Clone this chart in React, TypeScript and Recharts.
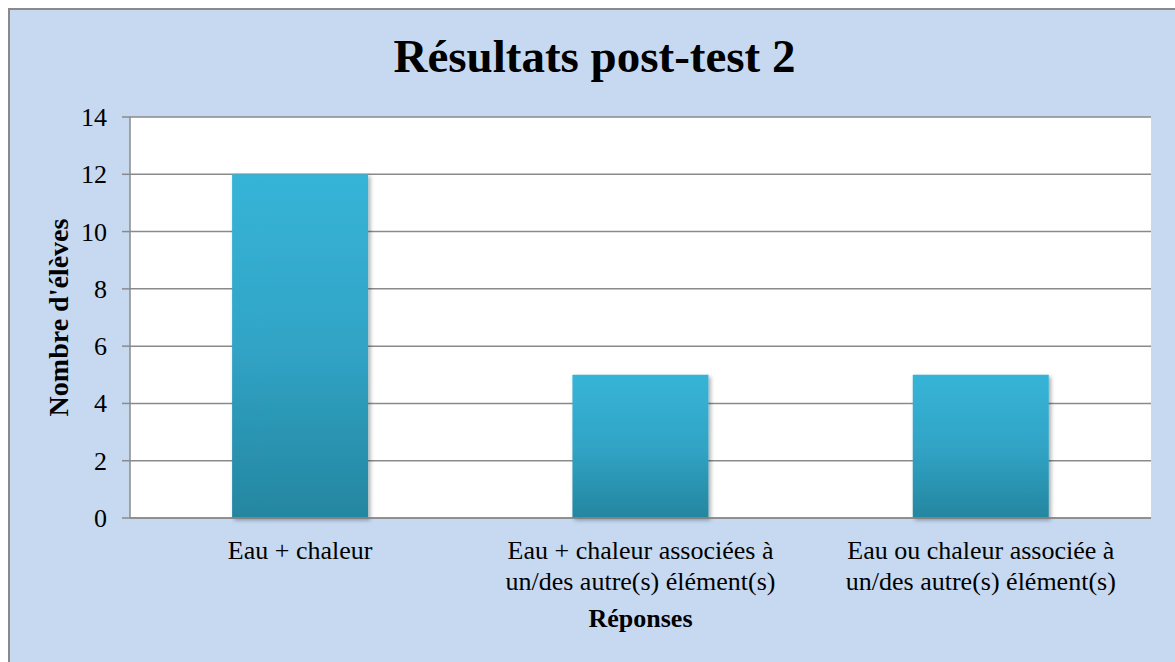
import React from 'react';
import { BarChart, Bar, XAxis, YAxis, CartesianGrid } from 'recharts';

const categories = [
  ['Eau + chaleur'],
  ['Eau + chaleur associées à', 'un/des autre(s) élément(s)'],
  ['Eau ou chaleur associée à', 'un/des autre(s) élément(s)'],
];
const values = [12, 5, 5];
const yTicks = [0, 2, 4, 6, 8, 10, 12, 14];
const title = 'Résultats post-test 2';
const yTitle = "Nombre d'élèves";
const xTitle = 'Réponses';

const data = categories.map((c, i) => ({ name: c.join(' '), lines: c, value: values[i] }));

const FONT = "'Liberation Serif', 'Times New Roman', serif";
const GRID = '#8a8a8a';

const XTick = (props: any) => {
  const { x, y, index } = props;
  const lines = categories[index] || [];
  return (
    <g>
      {lines.map((l, i) => (
        <text key={i} x={x} y={y + 41 + i * 31} textAnchor="middle" style={{ fontFamily: FONT }} fontSize={26} fill="#000">
          {l}
        </text>
      ))}
    </g>
  );
};

const YTick = (props: any) => {
  const { x, y, payload } = props;
  return (
    <text x={x} y={y} dy={9} textAnchor="end" style={{ fontFamily: FONT }} fontSize={26} fill="#000">
      {payload.value}
    </text>
  );
};

export default function App() {
  const W = 1173;
  const H = 662;
  return (
    <div style={{ position: 'fixed', left: 8, top: 8, width: 1167, height: 654, overflow: 'hidden' }}>
      <div style={{ width: W, height: H, background: '#c6d9f1', border: '2px solid #8a8a8a', position: 'relative' }}>
        <BarChart
          width={W}
          height={H}
          data={data}
          margin={{ top: 107, right: 32, left: 0, bottom: 0 }}
          barCategoryGap="30%"
          style={{ fontFamily: FONT }}
        >
          <defs>
            <linearGradient id="barGrad" x1="0" y1="0" x2="0" y2="1">
              <stop offset="0%" stopColor="#36b4d7" />
              <stop offset="50%" stopColor="#31a4c6" />
              <stop offset="100%" stopColor="#2486a0" />
            </linearGradient>
            <filter id="barShadow" x="-10%" y="-10%" width="130%" height="130%">
              <feDropShadow dx="2" dy="2" stdDeviation="2" floodColor="#000" floodOpacity="0.35" />
            </filter>
          </defs>
          <text x={584.5} y={62} textAnchor="middle" style={{ fontFamily: FONT }} fontSize={47} fontWeight="bold" fill="#000">
            {title}
          </text>
          <CartesianGrid vertical={false} stroke={GRID} strokeWidth={1.5} fill="#ffffff" />
          <XAxis
            dataKey="name"
            height={154}
            tickLine={false}
            tickSize={0}
            tickMargin={0}
            axisLine={{ stroke: GRID, strokeWidth: 1.5 }}
            tick={<XTick />}
            interval={0}
            label={{
              content: (p: any) => {
                const vb = p.viewBox || { x: 120, y: 508, width: 1021 };
                return (
                  <text x={vb.x + vb.width / 2} y={vb.y + 109} textAnchor="middle" style={{ fontFamily: FONT }} fontSize={26} fontWeight="bold" fill="#000">
                    {xTitle}
                  </text>
                );
              },
            }}
          />
          <YAxis
            width={120}
            domain={[0, 14]}
            ticks={yTicks}
            interval={0}
            tickSize={8}
            tickMargin={15}
            axisLine={{ stroke: GRID, strokeWidth: 1.5 }}
            tickLine={{ stroke: GRID, strokeWidth: 1.5 }}
            tick={<YTick />}
            label={{
              content: () => (
                <text x={58} y={307.5} transform="rotate(-90, 58, 307.5)" textAnchor="middle" style={{ fontFamily: FONT }} fontSize={28} fontWeight="bold" fill="#000">
                  {yTitle}
                </text>
              ),
            }}
          />
          <Bar dataKey="value" fill="url(#barGrad)" filter="url(#barShadow)" isAnimationActive={false} />
        </BarChart>
      </div>
    </div>
  );
}
